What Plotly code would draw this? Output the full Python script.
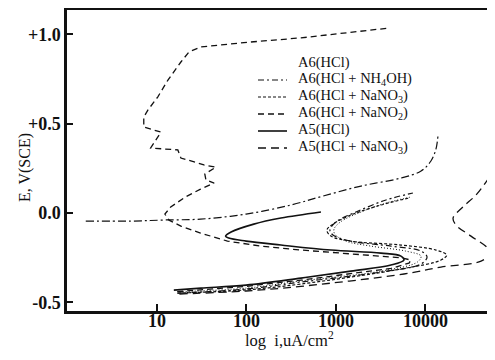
import math
import plotly.graph_objects as go

# ---- data: current density (uA/cm2) and potential (V vs SCE) ----
a6_nano2_i = [17, 100, 410, 1480, 4150, 6600, 6940, 5370, 1480, 410, 146, 62, 31, 18.7, 13.8, 12.4, 14.4, 21, 31, 44, 35.6, 34.6, 46, 33.8, 28.9, 18.7, 17.3, 8.6, 11.2, 7.2, 7.2, 8.0, 10.3, 13.4, 18.7, 23, 31, 113, 410, 3945]
a6_nano2_e = [-0.44, -0.41, -0.375, -0.34, -0.31, -0.28, -0.263, -0.25, -0.23, -0.207, -0.185, -0.157, -0.112, -0.073, -0.04, -0.006, 0.034, 0.09, 0.134, 0.168, 0.185, 0.218, 0.257, 0.269, 0.28, 0.308, 0.353, 0.364, 0.453, 0.481, 0.537, 0.576, 0.649, 0.744, 0.845, 0.901, 0.929, 0.957, 0.98, 1.035]

a5_hcl_i = [15.6, 31.3, 100, 410, 1480, 4150, 5800, 5370, 3210, 887, 245, 100, 64, 59, 68, 122, 245, 686]
a5_hcl_e = [-0.431, -0.42, -0.403, -0.364, -0.325, -0.291, -0.263, -0.241, -0.224, -0.207, -0.179, -0.157, -0.14, -0.129, -0.106, -0.062, -0.028, 0.006]

a6_hcl_i = [18, 100, 410, 3210, 8200, 8980, 6100, 2480, 1300, 980, 960, 1130, 1920, 3650, 6940]
a6_hcl_e = [-0.44, -0.42, -0.38, -0.325, -0.274, -0.241, -0.213, -0.185, -0.157, -0.118, -0.09, -0.05, 0.006, 0.056, 0.09]

a6_nh4oh_i = [17, 100, 410, 3210, 8980, 10500, 8980, 4150, 1480, 934, 864, 1010, 1690, 3650, 7300]
a6_nh4oh_e = [-0.448, -0.425, -0.386, -0.33, -0.285, -0.246, -0.213, -0.185, -0.157, -0.123, -0.095, -0.05, 0.006, 0.073, 0.112]

a6_nano3_i = [17.3, 100, 410, 5370, 15000, 17400, 13200, 5370, 1480, 887, 800, 934, 1480, 3210, 6600]
a6_nano3_e = [-0.448, -0.43, -0.397, -0.313, -0.263, -0.235, -0.207, -0.179, -0.157, -0.129, -0.095, -0.062, -0.011, 0.045, 0.084]

a5_nano3_i = [18, 100, 410, 5800, 15000, 42100, 54300, 48700, 32500, 22100, 20500, 26400, 37000, 47800, 61000, 78000]
a5_nano3_e = [-0.453, -0.436, -0.41, -0.341, -0.302, -0.269, -0.224, -0.19, -0.129, -0.067, -0.028, 0.034, 0.101, 0.173, 0.25, 0.32]

extra_i = [1.62, 5.2, 12.1, 31, 100, 317, 722, 1920, 5370, 9000, 11600, 13200, 13900]
extra_e = [-0.045, -0.045, -0.039, -0.034, -0.006, 0.045, 0.095, 0.151, 0.196, 0.235, 0.291, 0.358, 0.431]

x_tickvals = [10, 100, 1000, 10000]
x_ticktext = ["10", "100", "1000", "10000"]
y_tickvals = [1.0, 0.5, 0.0, -0.5]
y_ticktext = ["+1.0", "+0.5", "0.0", "-0.5"]

legend_labels = ["A6(HCl)", "A6(HCl + NH<sub>4</sub>OH)", "A6(HCl + NaNO<sub>3</sub>)",
                 "A6(HCl + NaNO<sub>2</sub>)", "A5(HCl)", "A5(HCl + NaNO<sub>3</sub>)"]

SERIF = "Liberation Serif, Times New Roman, serif"
INK = "#111111"

series = [
    (a6_hcl_i, a6_hcl_e, "1px,2px", 1.0, "spline"),
    (a6_nh4oh_i, a6_nh4oh_e, "6px,3px,2px,3px", 1.2, "spline"),
    (a6_nano3_i, a6_nano3_e, "3px,2px", 1.2, "spline"),
    (a6_nano2_i, a6_nano2_e, "6px,4px", 1.3, "linear"),
    (a5_hcl_i, a5_hcl_e, "solid", 1.6, "spline"),
    (a5_nano3_i, a5_nano3_e, "8px,5px", 1.3, "spline"),
]

fig = go.Figure()
for (xi, ye, dash, w, shp), name in zip(series, legend_labels):
    fig.add_trace(go.Scatter(x=xi, y=ye, mode="lines", name=name, showlegend=False,
                             line=dict(color=INK, width=w, dash=dash, shape=shp)))
fig.add_trace(go.Scatter(x=extra_i, y=extra_e, mode="lines", showlegend=False,
                         line=dict(color=INK, width=1.2, dash="8px,3px,2px,3px", shape="spline")))

# The page body adds an 8 px offset; the figure is sized so it fills the window.
OFF = 8
W, H = 495 - OFF, 360 - OFF
ML, MR, MT, MB = 67 - OFF, 0, 10 - OFF, 49
pw, ph = W - ML - MR, H - MT - MB
def px_x(p):
    return (p - OFF - ML) / pw
def px_y(p):
    return 1 - (p - OFF - MT) / ph

rows = [62, 79, 96, 113, 130, 147]
for k, (label, row) in enumerate(zip(legend_labels, rows)):
    fig.add_annotation(x=px_x(296), y=px_y(row), xref="paper", yref="paper", text=label,
                       showarrow=False, xanchor="left", yanchor="middle",
                       font=dict(family=SERIF, size=14.5, color=INK))
    if k > 0:
        _, _, dash, w, _ = series[k]
        fig.add_shape(type="line", xref="paper", yref="paper",
                      x0=px_x(258), x1=px_x(287), y0=px_y(row + 1), y1=px_y(row + 1),
                      line=dict(color=INK, width=w, dash=dash))

# x tick labels placed just under the axis at the tick values
for v, t in zip(x_tickvals, x_ticktext):
    fig.add_annotation(x=math.log10(v), y=px_y(321), xref="x", yref="paper", text=t,
                       showarrow=False, xanchor="center", yanchor="middle", borderpad=0,
                       font=dict(family=SERIF, size=18, color=INK, weight="bold"))

fig.add_annotation(x=px_x(14), y=px_y(168), xref="paper", yref="paper", text="E, V(SCE)",
                   textangle=-90, showarrow=False, font=dict(family=SERIF, size=16, color=INK))
fig.add_annotation(x=px_x(289), y=px_y(351), xref="paper", yref="paper",
                   text="log  i,uA/cm<sup>2</sup>", showarrow=False, borderpad=0,
                   font=dict(family=SERIF, size=16.5, color=INK))

fig.update_layout(
    width=W, height=H, margin=dict(l=ML, r=MR, t=MT, b=MB),
    paper_bgcolor="white", plot_bgcolor="white",
    font=dict(family=SERIF, color=INK),
    xaxis=dict(type="log", range=[0, 4.78], showline=True, linewidth=2.5, linecolor=INK,
               mirror=True, ticks="inside", ticklen=7, tickwidth=2, tickcolor=INK,
               tickvals=x_tickvals, showticklabels=False, showgrid=False, zeroline=False,
               automargin=False),
    yaxis=dict(range=[-0.548, 1.136], showline=True, linewidth=2.5, linecolor=INK,
               ticks="inside", ticklen=6, tickwidth=2, tickcolor=INK,
               tickvals=y_tickvals, ticktext=y_ticktext, showgrid=False, zeroline=False,
               automargin=False,
               tickfont=dict(family=SERIF, size=18, color=INK, weight="bold")),
)

fig.write_html("out.html")
